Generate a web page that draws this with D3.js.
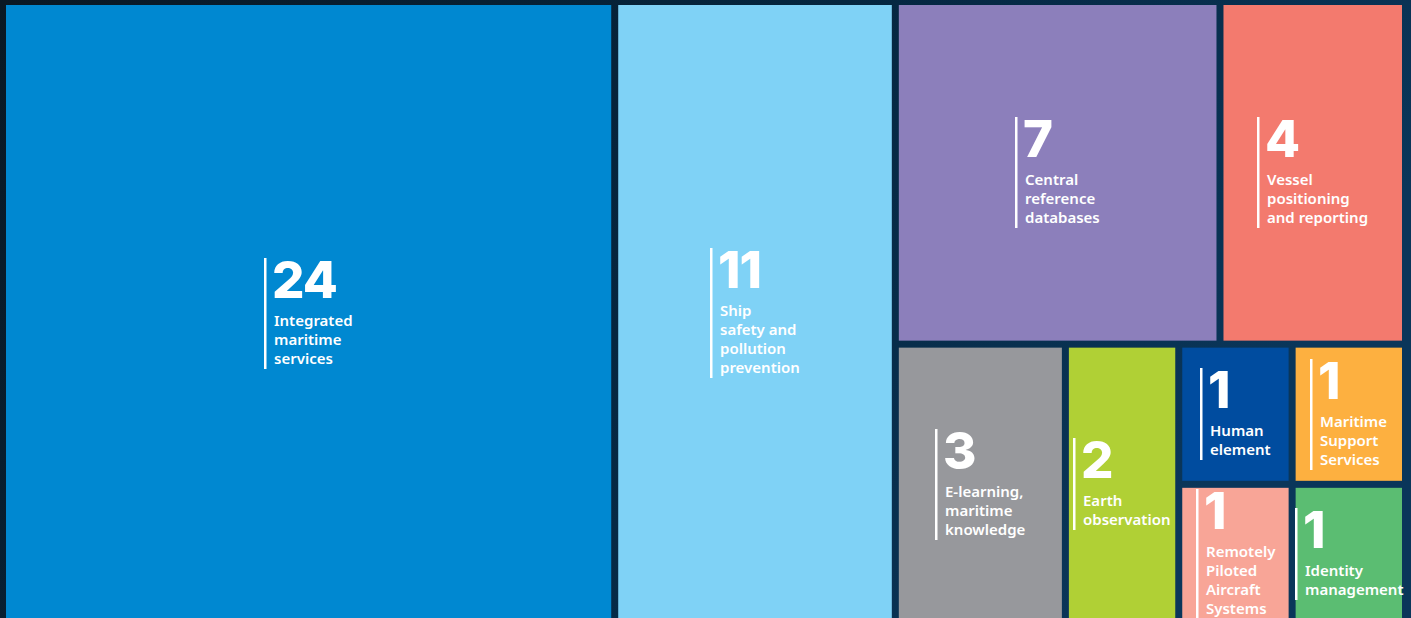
<!DOCTYPE html>
<html>
<head>
<meta charset="utf-8">
<script src="https://cdn.jsdelivr.net/npm/d3@7"></script>
<style>
  html, body { margin: 0; padding: 0; overflow: hidden; background: #0a1f33; }
  svg { display: block; }
</style>
</head>
<body>
<svg id="chart" width="1411" height="618"></svg>
<script>
// ---- Data ----
const categories = [
  "Integrated maritime services",
  "Ship safety and pollution prevention",
  "Central reference databases",
  "Vessel positioning and reporting",
  "E-learning, maritime knowledge",
  "Earth observation",
  "Human element",
  "Maritime Support Services",
  "Remotely Piloted Aircraft Systems",
  "Identity management"
];
const values = [24, 11, 7, 4, 3, 2, 1, 1, 1, 1];
const labelLines = [
  ["Integrated", "maritime", "services"],
  ["Ship", "safety and", "pollution", "prevention"],
  ["Central", "reference", "databases"],
  ["Vessel", "positioning", "and reporting"],
  ["E-learning,", "maritime", "knowledge"],
  ["Earth", "observation"],
  ["Human", "element"],
  ["Maritime", "Support", "Services"],
  ["Remotely", "Piloted", "Aircraft", "Systems"],
  ["Identity", "management"]
];
// grouping path of each category within the treemap hierarchy
const groupPaths = [
  [], [], ["G", "T"], ["G", "T"], ["G", "B"], ["G", "B"],
  ["G", "B", "Q", "Q1"], ["G", "B", "Q", "Q1"], ["G", "B", "Q", "Q2"], ["G", "B", "Q", "Q2"]
];
const colors = [
  "#0088d1", "#7fd2f6", "#8c7fbb", "#f37a6e", "#97989c",
  "#b0d035", "#004c9f", "#fdb040", "#f8a597", "#5bbd72"
];

// ---- Build hierarchy ----
const rootData = { name: "root", children: [] };
categories.forEach((c, i) => {
  let node = rootData;
  groupPaths[i].forEach(g => {
    let child = node.children.find(n => n.name === g && n.children);
    if (!child) { child = { name: g, children: [] }; node.children.push(child); }
    node = child;
  });
  node.children.push({ name: c, value: values[i], index: i });
});

const W = 1411, H = 618;
const svg = d3.select("#chart");

const defs = svg.append("defs");
const grad = defs.append("linearGradient").attr("id", "bg")
  .attr("x1", "0%").attr("y1", "0%").attr("x2", "100%").attr("y2", "30%");
grad.append("stop").attr("offset", "0%").attr("stop-color", "#0a1824");
grad.append("stop").attr("offset", "55%").attr("stop-color", "#05263f");
grad.append("stop").attr("offset", "100%").attr("stop-color", "#0a365a");
svg.append("rect").attr("width", W).attr("height", H).attr("fill", "url(#bg)");

const root = d3.hierarchy(rootData).sum(d => d.value || 0);
d3.treemap()
  .tile(d3.treemapSliceDice)
  .size([1396, 616])
  .paddingInner(7)
  (root);

const leaves = root.leaves();
const plot = svg.append("g").attr("transform", "translate(6,5)");

plot.append("g").selectAll("rect").data(leaves).join("rect")
  .attr("x", d => d.x0).attr("y", d => d.y0)
  .attr("width", d => d.x1 - d.x0).attr("height", d => d.y1 - d.y0)
  .attr("fill", d => colors[d.data.index]);

const numSize = 51, lblSize = 15, lineH = 19, numToText = 28, gap = 10;
const labels = plot.append("g").selectAll("g").data(leaves).join("g");

labels.each(function(d) {
  const g = d3.select(this);
  const i = d.data.index;
  const lines = labelLines[i];
  const num = g.append("text")
    .attr("font-family", "Inter, Lato, sans-serif")
    .attr("font-weight", 800)
    .attr("font-size", numSize)
    .attr("letter-spacing", -1)
    .attr("fill", "#fff")
    .text(values[i]);
  const txt = g.append("text")
    .attr("font-family", "'Noto Sans', 'Open Sans', sans-serif")
    .attr("font-weight", 600)
    .attr("font-size", lblSize)
    .attr("fill", "#fff");
  lines.forEach((l, k) => {
    txt.append("tspan").attr("x", 0).attr("y", numToText + k * lineH).text(l);
  });
  const wNum = num.node().getComputedTextLength();
  let wTxt = 0;
  txt.selectAll("tspan").each(function() { wTxt = Math.max(wTxt, this.getComputedTextLength()); });
  const blockW = gap + Math.max(wNum, wTxt);
  const topOff = 40; // number baseline from block top
  const blockH = topOff + numToText + (lines.length - 1) * lineH + 5;
  const cx = (d.x0 + d.x1) / 2, cy = (d.y0 + d.y1) / 2;
  const bx = Math.round(cx - blockW / 2), by = Math.round(cy - blockH / 2);
  g.append("rect").attr("x", bx).attr("y", by).attr("width", 2.5).attr("height", blockH).attr("fill", "#fff");
  num.attr("x", bx + gap - 2).attr("y", by + topOff);
  txt.attr("transform", `translate(${bx + gap},${by + topOff})`);
});
</script>
</body>
</html>
